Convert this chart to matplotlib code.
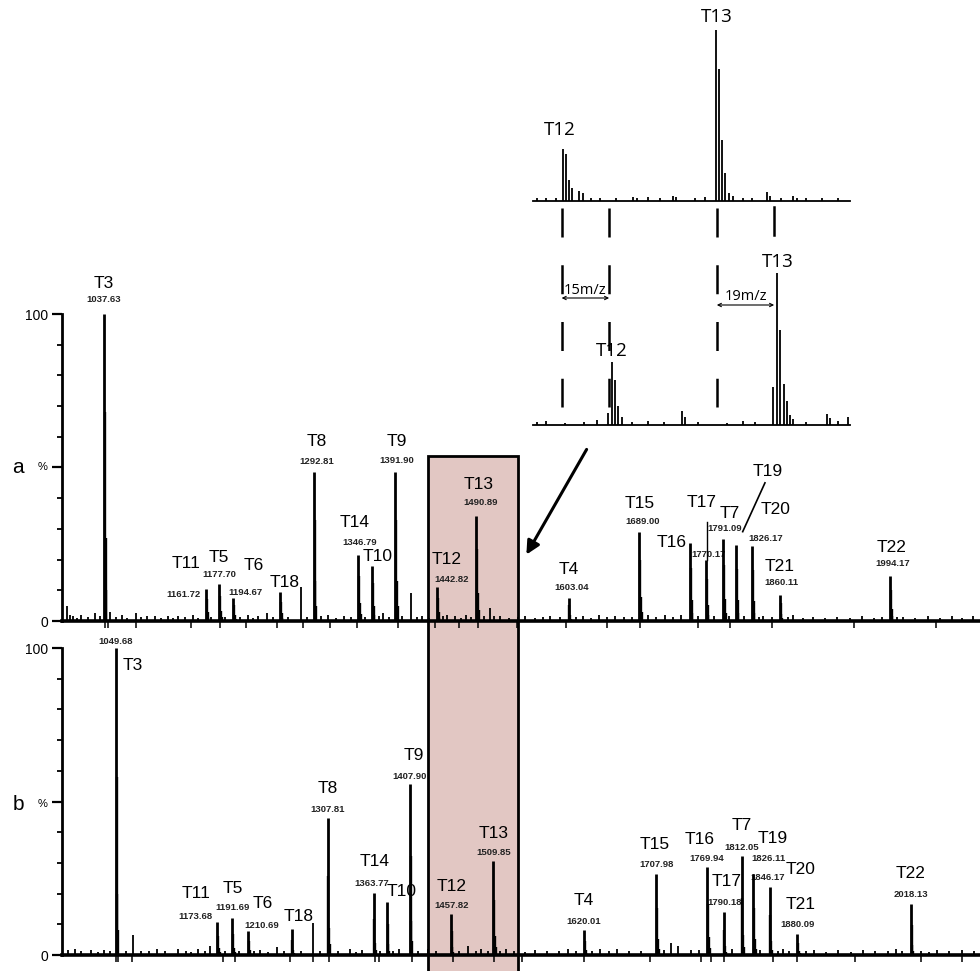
import matplotlib
matplotlib.use("Agg")
import matplotlib.pyplot as plt
from matplotlib.patches import Rectangle, FancyArrowPatch
from matplotlib.lines import Line2D
from matplotlib.ticker import MultipleLocator, FixedLocator
import matplotlib.transforms as mtransforms

plt.rcParams['font.family'] = ['Liberation Sans', 'DejaVu Sans']

# ---- spectrum a (unlabelled digest) ----
names_a = ["T3", "T11", "T5", "T6", "T18", "T8", "T14", "T10", "T9", "T12",
           "T13", "T4", "T15", "T16", "T17", "T7", "T19", "T20", "T21", "T22"]
mz_a = [1037.63, 1161.72, 1177.70, 1194.67, 1251.8, 1292.81, 1346.79, 1363.8,
        1391.90, 1442.82, 1490.89, 1603.04, 1689.00, 1750.8, 1770.17, 1791.09,
        1806.7, 1826.17, 1860.11, 1994.17]
int_a = [100, 10.3, 12.0, 7.6, 9.3, 48.6, 21.5, 18.0, 48.6, 11.2,
         34.3, 7.6, 29.1, 25.5, 19.9, 26.7, 24.8, 24.5, 8.5, 14.7]
mass_a = ["1037.63", "1161.72", "1177.70", "1194.67", "", "1292.81", "1346.79", "",
          "1391.90", "1442.82", "1490.89", "1603.04", "1689.00", "", "1770.17",
          "1791.09", "", "1826.17", "1860.11", "1994.17"]
minor_a = [(992, 5), (996, 2), (1000, 1.5), (1005, 1), (1010, 2), (1018, 1.2),
           (1026.7, 2.5), (1033, 1.5), (1045, 3), (1052, 1.2), (1059, 2), (1066, 1),
           (1077, 2.5), (1083, 1.2), (1090, 1.5), (1100, 1.5), (1107, 1), (1115, 1.5),
           (1121, 1), (1128, 1.5), (1136, 1.2), (1146, 2), (1152, 1), (1168, 1.2),
           (1185, 1.2), (1203, 1.2), (1213, 2), (1219, 1), (1225, 1.5), (1235.6, 2.5),
           (1243, 1.2), (1262, 1.2), (1276.9, 11.2), (1285, 1.2), (1302, 1.5), (1310, 2),
           (1320, 1), (1330, 1.5), (1338, 1.2), (1355, 1.2), (1372, 1.5), (1377.5, 2.5),
           (1384, 1.2), (1400, 1.5), (1411.2, 9.0), (1418, 1.2), (1425, 1.5), (1433, 1),
           (1450, 1.5), (1455, 2), (1465, 1.5), (1472, 1), (1478, 2), (1484, 1.2),
           (1500, 1.5), (1507, 4.2), (1512, 1.5), (1520, 1.5), (1530, 1), (1542, 1.2),
           (1550, 1.5), (1562, 1), (1572, 1.2), (1580, 1.5), (1592, 1.2), (1612, 1.2),
           (1620, 1.5), (1630, 1), (1640, 2), (1650, 1.2), (1660, 1.5), (1670, 1.2),
           (1680, 1.2), (1700, 2), (1710, 1.2), (1720, 2), (1730, 1.2), (1740, 2),
           (1760, 1.5), (1780, 1.5), (1798, 1.5), (1816, 1.5), (1835, 1.2), (1840, 1.5),
           (1850, 1.2), (1870, 1.2), (1876, 2), (1888, 1), (1900, 1.2), (1915, 1),
           (1930, 1.2), (1945, 1), (1960, 1.5), (1975, 1), (1985, 1.2), (2003, 1.2),
           (2010, 1.2), (2025, 1), (2040, 1.5), (2055, 1), (2070, 1.5), (2082, 1),
           (2095, 1.5)]
dips_a = [1038.8, 1042.5, 1077, 1144, 1178.5, 1211, 1247.6, 1280, 1313, 1345, 1395,
          1440, 1470, 1493, 1540, 1600, 1650, 1690, 1760, 1800, 1850, 1950, 2050]

# ---- spectrum b (labelled digest) ----
names_b = ["T3", "T11", "T5", "T6", "T18", "T8", "T14", "T10", "T9", "T12",
           "T13", "T4", "T15", "T16", "T17", "T7", "T19", "T20", "T21", "T22"]
mz_b = [1049.68, 1173.68, 1191.69, 1210.69, 1264.0, 1307.81, 1363.77, 1379.8,
        1407.90, 1457.82, 1509.85, 1620.01, 1707.98, 1769.94, 1790.18, 1812.05,
        1826.11, 1846.17, 1880.09, 2018.13]
int_b = [100, 10.6, 12.0, 7.8, 8.4, 44.5, 20.3, 17.2, 55.6, 13.4,
         30.7, 8.1, 26.4, 28.8, 13.9, 32.2, 26.4, 22.2, 6.7, 16.6]
mass_b = ["1049.68", "1173.68", "1191.69", "1210.69", "", "1307.81", "1363.77", "",
          "1407.90", "1457.82", "1509.85", "1620.01", "1707.98", "1769.94", "1790.18",
          "1812.05", "1826.11", "1846.17", "1880.09", "2018.13"]
minor_b = [(992, 1.5), (1000, 2), (1008, 1.2), (1020, 1.5), (1028, 1), (1035, 1.5),
           (1043, 1.2), (1062, 1.2), (1071, 6.5), (1080, 1.2), (1090, 1.2), (1100, 2),
           (1110, 1.2), (1125, 2), (1135, 1.2), (1142, 1), (1150, 2), (1158, 1.2),
           (1165, 3), (1183, 1.2), (1200, 1.2), (1218, 1.2), (1225, 1.5), (1235, 1),
           (1245.8, 2.7), (1255, 1.2), (1275, 1.2), (1289.6, 10.3), (1298, 1.2),
           (1320, 1.2), (1335, 2), (1342, 1), (1350, 1.5), (1372, 1.2), (1388, 1.2),
           (1395, 2), (1418, 1.2), (1430, 2), (1440, 1.2), (1468, 1.2), (1479, 3),
           (1488, 1.2), (1495, 2), (1503, 1.2), (1518, 1.2), (1525, 2), (1535, 1.2),
           (1548, 1), (1560, 1.5), (1575, 1.2), (1590, 1.2), (1600, 2), (1610, 1.2),
           (1630, 1.2), (1640, 2), (1650, 1.2), (1660, 2), (1675, 1.2), (1690, 1.2),
           (1718, 1.5), (1725.8, 3.9), (1735, 3), (1750, 1.5), (1760, 1.5), (1800, 2),
           (1835, 1.5), (1856, 1.2), (1862, 2), (1870, 1.2), (1890, 1.2), (1900, 1.5),
           (1915, 1), (1930, 1.5), (1945, 1), (1960, 1.5), (1975, 1.2), (1990, 1.2),
           (2000, 2), (2008, 1.2), (2030, 1.2), (2040, 1), (2050, 1.5), (2065, 1.2),
           (2080, 1.5), (2095, 1.2)]
dips_b = [1050.5, 1053, 1070, 1180, 1195, 1262, 1290, 1310, 1365, 1370, 1410, 1460,
          1510, 1545, 1620, 1700, 1762, 1775, 1790, 1850, 1880, 1950, 2030, 2080]

# isotope envelope (relative heights at +0, +1, +2, +3 m/z)
iso_a = [1.0, 0.68, 0.27, 0.10]
iso_b = [1.0, 0.58, 0.20, 0.08]

# ---- zoomed inset (T12 / T13 region) ----
inset_top_mz = [1443.1, 1444.1, 1445.2, 1446.2, 1448.3, 1449.4, 1435, 1438, 1441,
                1452, 1455, 1460, 1465.4, 1466.5, 1470, 1474, 1478.0, 1479, 1485,
                1488, 1491.5, 1492.4, 1493.4, 1494.5, 1495.5, 1497, 1500, 1503,
                1507.7, 1508.7, 1512, 1515.9, 1517, 1520, 1525, 1530]
inset_top_int = [30.4, 27.5, 12.3, 7.4, 6.0, 4.5, 2.0, 2.0, 1.5,
                 2.0, 2.0, 1.5, 2.5, 2.0, 2.5, 2.0, 3.0, 2.5, 2.0,
                 2.5, 100, 77, 35.7, 16.2, 4.5, 3.0, 2.0, 1.5,
                 5.5, 3.0, 1.5, 3.0, 2.0, 2.0, 1.5, 1.5]
inset_bot_mz = [1457.5, 1458.6, 1459.7, 1460.7, 1461.8, 1435, 1438, 1444, 1450, 1454,
                1465, 1470, 1475, 1480.7, 1481.7, 1486, 1495, 1500, 1504, 1509.6,
                1510.9, 1511.8, 1512.9, 1513.9, 1514.9, 1516, 1520, 1526.5, 1527.5,
                1530, 1533.3]
inset_bot_int = [7.7, 41.4, 29.9, 12.6, 5.5, 2.0, 2.5, 1.5, 2.0, 3.0,
                 2.0, 2.5, 2.0, 9.0, 5.0, 2.0, 1.5, 2.5, 2.0, 24.8,
                 100, 62.4, 27.0, 16.0, 6.6, 4.0, 2.0, 7.0, 4.5,
                 2.5, 5.0]
shift_marks = [1442.8, 1457.8, 1491.8, 1509.9]
shift_text = ["15m/z", "19m/z"]

# ---- label layout (pixel offsets from peak top) ----
name_off_a = {"T3": (0, 30), "T11": (-20, 26), "T5": (0, 27), "T6": (21, 32), "T18": (5, 10),
              "T8": (3, 30), "T14": (-3, 32), "T10": (6, 9), "T9": (2, 30), "T12": (10, 27),
              "T13": (2, 31), "T4": (0, 28), "T15": (0, 28), "T16": (-18, 0), "T17": (-4, 57),
              "T7": (7, 26), "T19": (32, 73), "T20": (24, 36), "T21": (0, 28), "T22": (2, 28)}
mass_off_a = {"T3": (0, 15), "T11": (-22, -5), "T5": (0, 10), "T6": (12, 5), "T8": (3, 10),
              "T14": (2, 12), "T9": (2, 11), "T12": (15, 7), "T13": (4, 13), "T4": (3, 10),
              "T15": (3, 10), "T17": (3, 5), "T7": (2, 11), "T20": (14, 7), "T21": (2, 12),
              "T22": (3, 12)}
name_off_b = {"T3": (17, -17), "T11": (-21, 29), "T5": (1, 30), "T6": (15, 28), "T18": (7, 13),
              "T8": (0, 30), "T14": (1, 31), "T10": (15, 11), "T9": (4, 29), "T12": (1, 27),
              "T13": (0, 27), "T4": (0, 30), "T15": (-1, 29), "T16": (-7, 27), "T17": (3, 31),
              "T7": (0, 31), "T19": (20, 35), "T20": (31, 17), "T21": (3, 30), "T22": (0, 31)}
mass_off_b = {"T3": (0, 7), "T11": (-22, 6), "T5": (0, 11), "T6": (14, 6), "T8": (0, 9),
              "T14": (-2, 9), "T9": (0, 8), "T12": (1, 8), "T13": (0, 8), "T4": (0, 9),
              "T15": (0, 9), "T16": (0, 8), "T17": (1, 10), "T7": (0, 9), "T19": (15, 15),
              "T20": (-2, 9), "T21": (0, 10), "T22": (0, 10)}

W, H = 980, 971
fig = plt.figure(figsize=(W / 100, H / 100), dpi=100)


def fx(x):
    return x / W


def fy(y):
    return 1 - y / H


def draw_spectrum(ax, names, mz, inten, masses, minor, dips, iso, noff, moff, xlim):
    ax.set_xlim(*xlim)
    ax.set_ylim(0, 100)
    ax.patch.set_visible(False)
    for s in ["top", "right", "bottom"]:
        ax.spines[s].set_visible(False)
    ax.spines["left"].set_linewidth(2.0)
    ax.spines["left"].set_bounds(0, 100)
    ax.set_xticks([])
    ax.yaxis.set_major_locator(FixedLocator([0, 50, 100]))
    ax.set_yticklabels(["0", "", "100"])
    ax.yaxis.set_minor_locator(MultipleLocator(10))
    ax.tick_params(axis="y", which="major", length=7, width=1.6, labelsize=10, pad=3)
    ax.tick_params(axis="y", which="minor", length=3.5, width=1.3)

    ax.plot(xlim, [0, 0], color="black", lw=2.6, clip_on=False, zorder=2)
    ax.vlines([m for m, _ in minor], 0, [h for _, h in minor], color="black",
              lw=1.3, clip_on=False, zorder=2)
    ax.vlines(dips, 0, -2.2, color="black", lw=1.1, clip_on=False, zorder=2)
    for m, h in zip(mz, inten):
        xs = [m + k for k in range(len(iso))]
        hs = [h * r for r in iso]
        ax.vlines(xs[:1], 0, hs[:1], color="black", lw=2.0, clip_on=False, zorder=2)
        ax.vlines(xs[1:], 0, hs[1:], color="black", lw=1.7, clip_on=False, zorder=2)

    for n, m, h, ms in zip(names, mz, inten, masses):
        ax.annotate(n, (m, h), xytext=noff[n], textcoords="offset pixels",
                    ha="center", va="center", fontsize=12.5, zorder=1,
                    annotation_clip=False)
        if ms:
            ax.annotate(ms, (m, h), xytext=moff[n], textcoords="offset pixels",
                        ha="center", va="center", fontsize=6.8, fontweight="bold",
                        color="#222222", zorder=1, annotation_clip=False)


# highlight box behind both spectra
fig.add_artist(Rectangle((fx(428), -0.01), (517.5 - 428) / W, fy(456) + 0.01,
                         transform=fig.transFigure, facecolor="#e2c7c3",
                         edgecolor="black", lw=2.0, zorder=-1))

ax_a = fig.add_axes([fx(62), fy(621), 918 / W, 307 / H])
draw_spectrum(ax_a, names_a, mz_a, int_a, mass_a, minor_a, dips_a, iso_a,
              name_off_a, mass_off_a, (986.5, 2103.7))
# leader lines for T17 and T19
ax_a.plot([1771.0, 1771.0], [19.9, 32.3], color="black", lw=1.0, zorder=2)
ax_a.plot([1842.0, 1814.9], [45.0, 29.1], color="black", lw=1.2, zorder=2)

ax_b = fig.add_axes([fx(62), fy(955), 918 / W, 307 / H])
draw_spectrum(ax_b, names_b, mz_b, int_b, mass_b, minor_b, dips_b, iso_b,
              name_off_b, mass_off_b, (984.3, 2102.4))

for lab, yc in [("a", 467), ("b", 804)]:
    fig.text(fx(18), fy(yc), lab, fontsize=15, ha="center", va="center")
    fig.text(fx(43), fy(yc), "%", fontsize=8, ha="center", va="center")

# arrow from inset to the highlighted region
fig.add_artist(FancyArrowPatch((fx(588), fy(447)), (fx(525), fy(557)),
                               transform=fig.transFigure, arrowstyle="-|>",
                               mutation_scale=20, lw=2.2, color="black"))

# ---- inset spectra ----
inset_font = ['Open Sans', 'DejaVu Sans']
ins_xlim = (1433.76, 1533.85)
ax_t = fig.add_axes([fx(533), fy(201), 317 / W, 171 / H])
ax_u = fig.add_axes([fx(533), fy(425), 317 / W, 151.7 / H])
for ax, xs, hs in [(ax_t, inset_top_mz, inset_top_int), (ax_u, inset_bot_mz, inset_bot_int)]:
    ax.set_xlim(*ins_xlim)
    ax.set_ylim(0, 100)
    ax.axis("off")
    ax.plot(ins_xlim, [0, 0], color="black", lw=1.3, clip_on=False)
    ax.vlines(xs, 0, hs, color="black", lw=1.3, clip_on=False)

ax_t.annotate("T12", (1443.1, 30.4), xytext=(-3, 10), textcoords="offset pixels",
              ha="center", va="bottom", fontsize=13.5, family=inset_font)
ax_t.annotate("T13", (1491.5, 100), xytext=(1, 4), textcoords="offset pixels",
              ha="center", va="bottom", fontsize=13.5, family=inset_font)
ax_u.annotate("T12", (1458.6, 41.4), xytext=(0, 2), textcoords="offset pixels",
              ha="center", va="bottom", fontsize=13.5, family=inset_font)
ax_u.annotate("T13", (1510.9, 100), xytext=(0, 2), textcoords="offset pixels",
              ha="center", va="bottom", fontsize=13.5, family=inset_font)

blend = mtransforms.blended_transform_factory(ax_t.transData, fig.transFigure)
for m in shift_marks[:3]:
    fig.add_artist(Line2D([m, m], [fy(208), fy(407)], transform=blend, color="black",
                          lw=1.8, linestyle=(0, (11.6, 11.1))))
fig.add_artist(Line2D([shift_marks[3]] * 2, [fy(207), fy(235)], transform=blend,
                      color="black", lw=1.8))

for (m0, m1), txt, yy in [((shift_marks[0], shift_marks[1]), shift_text[0], 298),
                           ((shift_marks[2], shift_marks[3]), shift_text[1], 305)]:
    fig.add_artist(FancyArrowPatch((m0, fy(yy)), (m1, fy(yy)), transform=blend,
                                   arrowstyle="<->", mutation_scale=6, lw=0.8,
                                   color="black", shrinkA=0, shrinkB=0))
    fig.text((m0 + m1) / 2, fy(yy - 0.5), txt, transform=blend, ha="center",
             va="bottom", fontsize=10.5, family=inset_font)

fig.savefig("out.png", dpi=100)
